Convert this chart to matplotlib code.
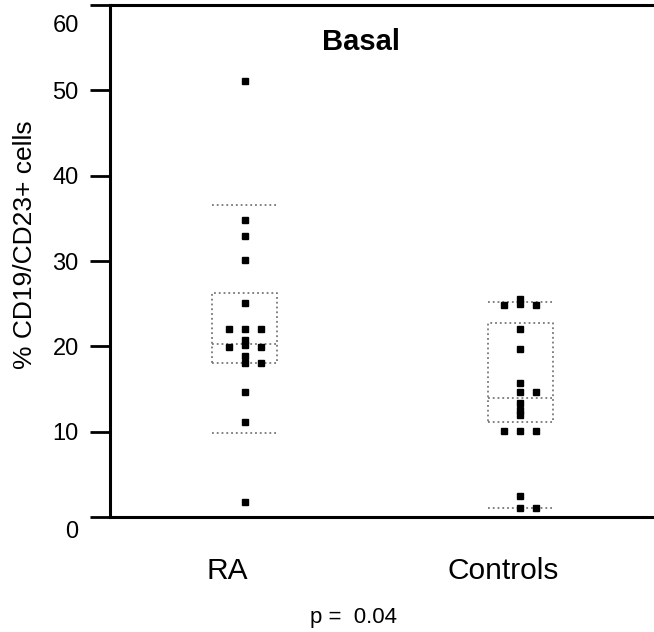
#!/usr/bin/env python3
"""Basal % CD19/CD23+ cells, RA vs controls: box (dotted) + individual points."""
import matplotlib
matplotlib.use("Agg")
import matplotlib.pyplot as plt
from matplotlib.transforms import ScaledTranslation

plt.rcParams["font.family"] = ["Liberation Sans", "DejaVu Sans"]

GROUPS = ["RA", "Controls"]

RA_VALUES = [51.1, 34.8, 32.9, 30.1, 25.1, 22.0, 22.0, 22.0, 20.7,
             20.1, 19.9, 19.9, 18.9, 18.0, 18.0, 14.7, 11.1, 1.7]
CONTROL_VALUES = [25.6, 25.0, 24.9, 24.9, 22.0, 19.7, 15.7, 14.7, 14.7,
                  13.4, 12.5, 11.9, 10.1, 10.1, 10.1, 2.5, 1.0, 1.0]

# box stats as drawn in the figure: low whisker, q1, median, q3, high whisker
WHISKER_LOW = [9.9, 1.0]
Q1 = [18.1, 11.1]
MEDIAN = [20.3, 14.0]
Q3 = [26.2, 22.7]
WHISKER_HIGH = [36.6, 25.2]

P_TEXT = "p =  0.04"
TITLE = "Basal"
YLABEL = "% CD19/CD23+ cells"


def swarm_offsets(values, step, tol):
    # place each point in the first free slot (0, +1, -1, ...) nearby in y
    slots = [0, 1, -1, 2, -2]
    placed = []
    out = []
    for v in values:
        for s in slots:
            if all(not (ps == s and abs(pv - v) < tol) for pv, ps in placed):
                break
        placed.append((v, s))
        out.append(s * step)
    return out


def main():
    fig = plt.figure(figsize=(6.54, 6.32), dpi=100)
    ax = fig.add_axes([110 / 654, 115 / 632, 545 / 654, 512 / 632])

    box_w = 0.236
    stats = []
    for i, g in enumerate(GROUPS):
        stats.append(dict(label=g, whislo=WHISKER_LOW[i], q1=Q1[i],
                          med=MEDIAN[i], q3=Q3[i], whishi=WHISKER_HIGH[i],
                          fliers=[]))
    gray = "#777777"
    ax.bxp(stats, positions=[1, 2], widths=box_w, capwidths=box_w,
           showfliers=False, patch_artist=False,
           boxprops=dict(color=gray, linestyle=":", linewidth=1.3),
           medianprops=dict(color=gray, linestyle=":", linewidth=1.3),
           whiskerprops=dict(linewidth=0),
           capprops=dict(color=gray, linestyle=":", linewidth=1.3))

    for pos, vals in zip([1, 2], [RA_VALUES, CONTROL_VALUES]):
        offs = swarm_offsets(vals, 0.058, 0.5)
        ax.plot([pos + o for o in offs], vals, linestyle="none", marker="s",
                markersize=4, color="black", zorder=3)

    ax.set_xlim(0.511, 2.49)
    ax.set_ylim(0, 60)
    ax.set_yticks(range(0, 61, 10))
    ax.set_xticks([1, 2])
    ax.set_xticklabels(GROUPS, fontsize=21.5)
    ax.tick_params(axis="x", length=0, pad=29)
    ax.tick_params(axis="y", direction="out", length=14.5, width=2,
                   labelsize=17, pad=8)
    shift = ScaledTranslation(-0.17, 0, fig.dpi_scale_trans)
    for lab in ax.get_xticklabels():
        lab.set_transform(lab.get_transform() + shift)
    # the end labels sit a little lower than their ticks
    ylabs = ax.get_yticklabels()
    for lab, dy in [(ylabs[0], -0.13), (ylabs[-1], -0.18)]:
        lab.set_transform(lab.get_transform()
                          + ScaledTranslation(0, dy, fig.dpi_scale_trans))

    for side in ["left", "bottom", "top"]:
        ax.spines[side].set_linewidth(2.2)
    ax.spines["right"].set_visible(False)

    ax.text(1.424, 55.7, TITLE, ha="center", va="center",
            fontsize=21, fontweight="bold")
    fig.text(25 / 654, 1 - 245 / 632, YLABEL, rotation=90,
             ha="center", va="center", fontsize=19)
    fig.text(354 / 654, 1 - 618 / 632, P_TEXT, ha="center", va="center",
             fontsize=16)

    fig.savefig("out.png", dpi=100)
    plt.close(fig)


if __name__ == "__main__":
    main()
